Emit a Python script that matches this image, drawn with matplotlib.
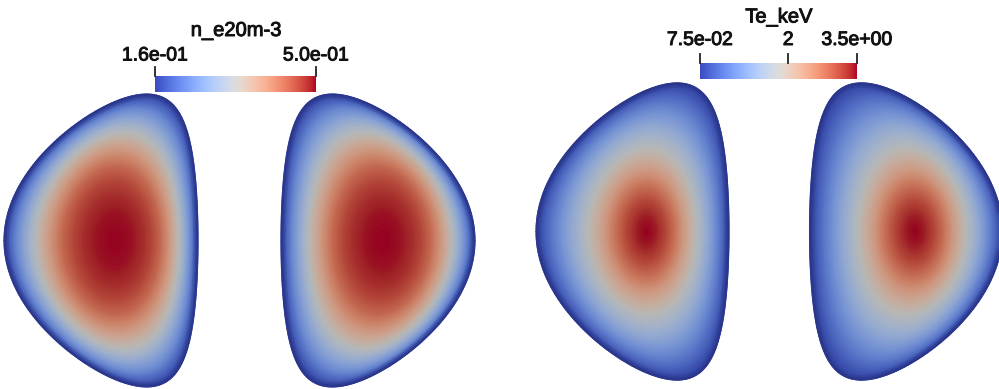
import numpy as np
import matplotlib
matplotlib.use("Agg")
import matplotlib.pyplot as plt
import matplotlib.patheffects as pe
from matplotlib.colors import ListedColormap, Normalize
from matplotlib.patches import Polygon

# radial profiles (normalised minor radius -> value)
RHO = [0.0, 0.1, 0.2, 0.3, 0.4, 0.5, 0.6, 0.7, 0.8, 0.9, 1.0]
NE_PROFILE = [0.500, 0.498, 0.493, 0.483, 0.466, 0.439, 0.398, 0.350, 0.296, 0.235, 0.160]
TE_PROFILE = [3.50, 3.40, 3.16, 2.82, 2.40, 2.03, 1.65, 1.31, 0.93, 0.52, 0.075]

NE_RANGE = (0.16, 0.50)
TE_RANGE = (0.075, 3.5)
NE_TICKS = [0.16, 0.50]
NE_TICK_LABELS = ["1.6e-01", "5.0e-01"]
TE_TICKS = [0.075, 2.0, 3.5]
TE_TICK_LABELS = ["7.5e-02", "2", "3.5e+00"]

# cross sections: centre x, centre y, minor radius, elongation, triangularity,
# axis shift, side of the outboard edge (-1 left, +1 right)
NE_SHAPES = [(101, 240.5, 97, 1.51, 0.49, 14, -1),
             (378, 240.5, 97, 1.51, 0.49, 5, +1)]
TE_SHAPES = [(632.5, 231.5, 96.5, 1.54, 0.48, 14, -1),
             (906, 231.5, 96.5, 1.54, 0.48, 9, +1)]

SHADE = 0.83
FONT = "Liberation Sans"

base = plt.get_cmap("coolwarm")
cols = base(np.linspace(0, 1, 256))
cols[:, :3] *= SHADE
lit = ListedColormap(cols)


def draw_section(ax, shape, profile, vrange):
    xc, yc, a, kappa, delta, shift, side = shape
    rho = np.linspace(0, 1, 80)[:, None]
    th = np.linspace(0, 2 * np.pi, 361)[None, :]
    # triangularity grows towards the edge, core surfaces are near elliptic
    ang = th + delta * rho ** 2.5 * np.sin(th)
    X = xc + shift * (1 - rho ** 2) + side * a * rho * np.cos(ang)
    Y = yc - kappa * a * rho * np.sin(th)
    C = np.interp(rho, RHO, profile) * np.ones_like(th)
    ax.pcolormesh(X, Y, C, shading="gouraud", cmap=lit,
                  norm=Normalize(*vrange), rasterized=True)
    # darker rim where the torus wall shows, kept inside the section
    outline = Polygon(np.column_stack([X[-1], Y[-1]]), closed=True,
                      facecolor="none", edgecolor="none")
    ax.add_patch(outline)
    for lw, al in [(7.0, 0.18), (3.5, 0.25)]:
        rim, = ax.plot(X[-1], Y[-1], color="#1f2a70", lw=lw, alpha=al)
        rim.set_clip_path(outline)
    ax.plot(X[-1], Y[-1], color="#2a3685", lw=0.8, alpha=0.5)


def draw_colorbar(ax, x0, x1, y0, y1, title, title_xy, vrange, ticks, labels, label_y):
    grad = np.linspace(0, 1, 256)[None, :]
    ax.imshow(grad, extent=[x0, x1, y1, y0], cmap="coolwarm", aspect="auto",
              interpolation="bilinear")
    bold = [pe.withStroke(linewidth=0.7, foreground="#111111")]
    for t, lab in zip(ticks, labels):
        x = x0 + (t - vrange[0]) / (vrange[1] - vrange[0]) * (x1 - x0)
        ax.plot([x, x], [y0 - 9.5, y0], color="#222222", lw=1.3)
        ax.text(x, label_y, lab, ha="center", va="baseline", fontsize=14,
                family=FONT, color="#111111", path_effects=bold)
    ax.text(title_xy[0], title_xy[1], title, ha="center", va="baseline",
            fontsize=14.5, family=FONT, color="#111111", path_effects=bold)


fig = plt.figure(figsize=(9.99, 3.89), dpi=100)
ax = fig.add_axes([0, 0, 1, 1])
ax.set_xlim(0, 999)
ax.set_ylim(389, 0)
ax.axis("off")

for s in NE_SHAPES:
    draw_section(ax, s, NE_PROFILE, NE_RANGE)
for s in TE_SHAPES:
    draw_section(ax, s, TE_PROFILE, TE_RANGE)

draw_colorbar(ax, 155, 316, 76, 92, "n_e20m-3", (236, 36), NE_RANGE,
              NE_TICKS, NE_TICK_LABELS, 60.5)
draw_colorbar(ax, 700, 857, 63, 79, "Te_keV", (779, 22.5), TE_RANGE,
              TE_TICKS, TE_TICK_LABELS, 45)

ax.set_xlim(0, 999)
ax.set_ylim(389, 0)
fig.savefig("out.png", dpi=100)
